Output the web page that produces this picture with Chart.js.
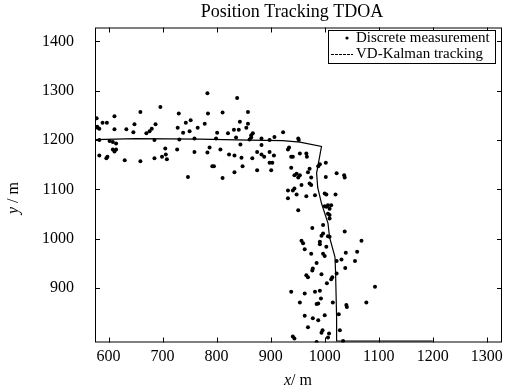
<!DOCTYPE html>
<html>
<head>
<meta charset="utf-8">
<script src="https://cdn.jsdelivr.net/npm/chart.js@4.4.1/dist/chart.umd.min.js"></script>
<style>
  html, body { margin: 0; padding: 0; background: #fff; }
</style>
</head>
<body>
<canvas id="chart" width="516" height="392"></canvas>
<script>
// measured positions (scattered dots)
var measX = [783, 838, 659, 696, 730, 784, 811, 858, 611, 589, 597, 580, 583, 611, 648, 633, 646, 687, 680, 676,
  670, 728, 743, 752, 738, 750, 765, 778, 801, 821, 832, 843, 858, 841, 855, 867, 864, 907, 583, 602,
  608, 614, 685, 731, 759, 799, 836, 861, 883, 898, 583, 598, 596, 608, 611, 614, 630, 659, 685, 699,
  706, 708, 705, 727, 759, 783, 787, 792, 795, 807, 823, 833, 846, 844, 866, 875, 883, 888, 898, 898,
  903, 875, 833, 848, 747, 811, 578, 579, 864, 923, 951, 952, 883, 906, 901, 932, 934, 938, 941, 954,
  966, 967, 938, 972, 969, 988, 991, 1002, 948, 954, 951, 975, 1002, 1022, 1036, 1037, 944, 972, 957, 975,
  944, 941, 932, 948, 932, 966, 982, 1000, 1003, 1020, 951, 1000, 1003, 1006, 1009, 1012, 1006, 1009, 1009, 997,
  977, 1037, 997, 994, 1006, 1009, 957, 960, 963, 991, 991, 1003, 1068, 975, 997, 1000, 1039, 1060, 1031, 1022,
  1056, 985, 978, 977, 1038, 994, 966, 969, 1014, 1012, 1022, 1004, 1093, 938, 963, 982, 991, 993, 954, 1015,
  988, 985, 1040, 1041, 1077, 963, 978, 1000, 1026, 969, 988, 996, 994, 1028, 1008, 1006, 941, 944, 985, 1034];
var measY = [1295, 1285, 1257, 1267, 1254, 1254, 1256, 1257, 1248, 1235, 1235, 1225, 1223, 1222, 1232, 1222, 1216, 1232, 1223, 1218,
  1214, 1225, 1235, 1240, 1215, 1218, 1225, 1233, 1215, 1214, 1221, 1237, 1233, 1221, 1225, 1214, 1210, 1206, 1200, 1198,
  1196, 1193, 1200, 1201, 1203, 1203, 1205, 1201, 1203, 1200, 1169, 1166, 1163, 1181, 1177, 1181, 1159, 1157, 1163, 1166,
  1171, 1161, 1183, 1181, 1176, 1175, 1185, 1147, 1147, 1181, 1171, 1169, 1164, 1191, 1163, 1176, 1171, 1166, 1176, 1154,
  1154, 1139, 1135, 1147, 1125, 1123, 1244, 1227, 1205, 1216, 1203, 1200, 1190, 1169, 1139, 1181, 1185, 1166, 1166, 1173,
  1173, 1166, 1144, 1142, 1135, 1147, 1151, 1154, 1132, 1129, 1124, 1124, 1125, 1133, 1129, 1124, 1129, 1112, 1109, 1109,
  1102, 1098, 1098, 1090, 1082, 1086, 1088, 1092, 1090, 1090, 1058, 1066, 1065, 1068, 1061, 1068, 1051, 1048, 1041, 1028,
  1022, 1015, 1011, 1006, 1005, 1004, 996, 991, 979, 994, 989, 984, 996, 970, 970, 965, 972, 974, 958, 955,
  955, 951, 940, 936, 941, 928, 926, 922, 922, 918, 930, 910, 903, 893, 889, 893, 895, 879, 871, 871,
  869, 868, 866, 862, 871, 844, 839, 845, 847, 821, 835, 815, 810, 815, 808, 800, 802, 798, 791, 793];

// VD-Kalman track
var trackX = [576, 650, 768, 860, 922, 954, 994, 985, 987, 994, 1006, 1009, 1019, 1020, 1022, 1022, 1200];
var trackY = [1201, 1203, 1202, 1200, 1199, 1196, 1187, 1133, 1104, 1072, 1032, 1003, 963, 936, 841, 793, 793];

var xTicks = [600, 700, 800, 900, 1000, 1100, 1200, 1300];
var yTicks = [900, 1000, 1100, 1200, 1300, 1400];

var serif = '"Liberation Serif", "Times New Roman", serif';

function pts(xs, ys) {
  var out = [];
  for (var i = 0; i < xs.length; i++) out.push({ x: xs[i], y: ys[i] });
  return out;
}

var framePlugin = {
  id: 'frame',
  afterDraw: function (chart) {
    var ctx = chart.ctx, a = chart.chartArea;
    var sx = chart.scales.x, sy = chart.scales.y;
    ctx.save();
    ctx.strokeStyle = '#000';
    ctx.lineWidth = 1;
    ctx.strokeRect(a.left + 0.5, a.top + 0.5, a.right - a.left - 1, a.bottom - a.top - 1);

    // inward ticks on all four sides
    ctx.beginPath();
    xTicks.forEach(function (v) {
      var p = Math.round(sx.getPixelForValue(v)) + 0.5;
      ctx.moveTo(p, a.bottom); ctx.lineTo(p, a.bottom - 5);
      ctx.moveTo(p, a.top); ctx.lineTo(p, a.top + 5);
    });
    yTicks.forEach(function (v) {
      var p = Math.round(sy.getPixelForValue(v)) + 0.5;
      ctx.moveTo(a.left, p); ctx.lineTo(a.left + 5, p);
      ctx.moveTo(a.right, p); ctx.lineTo(a.right - 5, p);
    });
    ctx.stroke();

    // title
    ctx.fillStyle = '#000';
    ctx.textAlign = 'center';
    ctx.textBaseline = 'middle';
    ctx.font = '18px ' + serif;
    ctx.fillText('Position Tracking TDOA', 292, 12);

    // x axis title
    ctx.textAlign = 'left';
    ctx.font = 'italic 16px ' + serif;
    var w1 = ctx.measureText('x').width;
    ctx.font = '16px ' + serif;
    var w2 = ctx.measureText('/ m').width;
    var x0 = 298 - (w1 + w2) / 2;
    ctx.font = 'italic 16px ' + serif;
    ctx.fillText('x', x0, 381);
    ctx.font = '16px ' + serif;
    ctx.fillText('/ m', x0 + w1, 381);

    // y axis title
    ctx.save();
    ctx.translate(14, 198);
    ctx.rotate(-Math.PI / 2);
    ctx.font = 'italic 16px ' + serif;
    w1 = ctx.measureText('y ').width;
    ctx.font = '16px ' + serif;
    w2 = ctx.measureText('/ m').width;
    x0 = -(w1 + w2) / 2;
    ctx.font = 'italic 16px ' + serif;
    ctx.fillText('y ', x0, 0);
    ctx.font = '16px ' + serif;
    ctx.fillText('/ m', x0 + w1, 0);
    ctx.restore();

    // legend
    ctx.fillStyle = '#fff';
    ctx.fillRect(328, 30, 167, 33);
    ctx.strokeRect(328.5, 30.5, 167, 33);
    ctx.fillStyle = '#000';
    ctx.beginPath();
    ctx.arc(347, 38, 1.6, 0, Math.PI * 2);
    ctx.fill();
    ctx.beginPath();
    ctx.setLineDash([3, 1]);
    ctx.moveTo(331, 54.5); ctx.lineTo(353, 54.5);
    ctx.stroke();
    ctx.setLineDash([]);
    ctx.font = '15px ' + serif;
    ctx.textBaseline = 'middle';
    ctx.fillText('Discrete measurement', 356, 38);
    ctx.fillText('VD-Kalman tracking', 356, 54);
    ctx.restore();
  }
};

function plain(v) { return String(v); }

new Chart(document.getElementById('chart'), {
  type: 'scatter',
  data: {
    datasets: [
      {
        label: 'Discrete measurement',
        data: pts(measX, measY),
        pointRadius: 2,
        pointBackgroundColor: '#000',
        pointBorderWidth: 0
      },
      {
        label: 'VD-Kalman tracking',
        data: pts(trackX, trackY),
        showLine: true,
        borderColor: '#000',
        borderWidth: 1.2,
        pointRadius: 0,
        fill: false
      }
    ]
  },
  options: {
    responsive: false,
    devicePixelRatio: 1,
    animation: false,
    layout: { padding: { top: 27.5, right: 14, left: 0, bottom: 0 } },
    plugins: {
      legend: { display: false },
      tooltip: { enabled: false },
      title: { display: false }
    },
    scales: {
      x: {
        type: 'linear',
        min: 575,
        max: 1328,
        grid: { display: false },
        border: { display: false },
        ticks: { color: '#000', font: { family: serif, size: 16 }, padding: -3, maxRotation: 0, callback: plain },
        afterBuildTicks: function (s) { s.ticks = xTicks.map(function (v) { return { value: v }; }); },
        afterFit: function (s) { s.height = 49.5; }
      },
      y: {
        type: 'linear',
        min: 790,
        max: 1428,
        grid: { display: false },
        border: { display: false },
        ticks: { color: '#000', font: { family: serif, size: 16 }, padding: 13, callback: plain },
        afterBuildTicks: function (s) { s.ticks = yTicks.map(function (v) { return { value: v }; }); },
        afterFit: function (s) { s.width = 95; }
      }
    }
  },
  plugins: [framePlugin]
});
</script>
</body>
</html>
